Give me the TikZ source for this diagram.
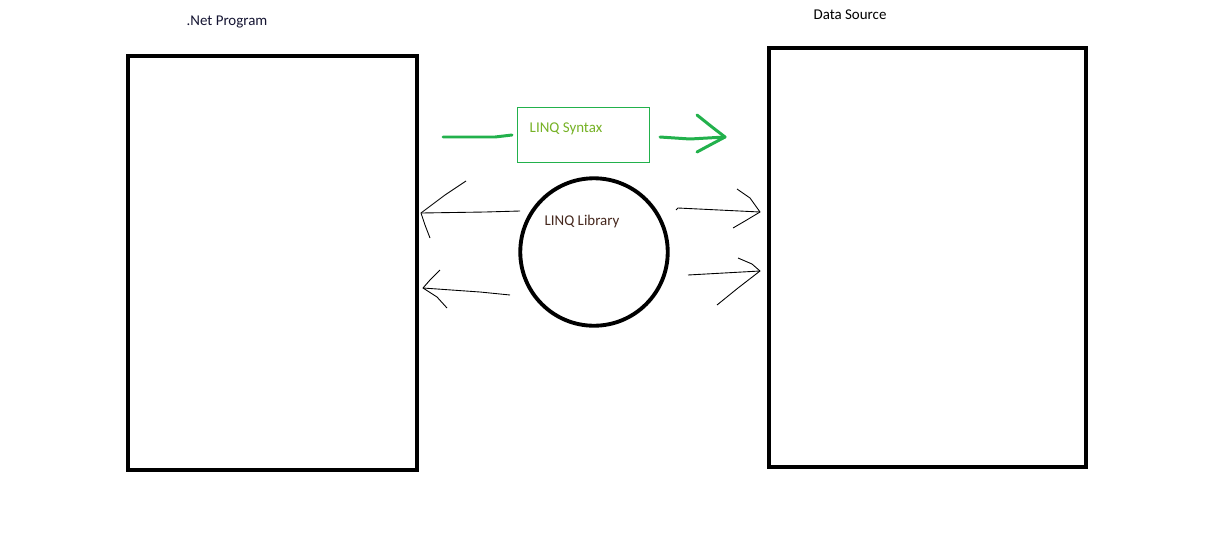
\documentclass[tikz,border=0pt]{standalone}
\usepackage{fontspec}
\setmainfont{Carlito}
\definecolor{paintgreen}{RGB}{34,177,76}
\definecolor{syntaxtext}{RGB}{118,178,38}
\definecolor{libtext}{RGB}{70,40,30}
\definecolor{captext}{RGB}{20,20,50}

\begin{document}
\begin{tikzpicture}[x=0.02cm, y=-0.02cm, font=\fontsize{8.5}{10}\selectfont,
  bigbox/.style={draw, line width=2.2pt, inner sep=0pt, anchor=north west},
  caption/.style={text=captext, inner sep=0pt},
  gline/.style={draw=paintgreen, line width=1.7pt, line cap=round, line join=round},
  pen/.style={draw=black, line width=0.5pt, line join=round}]
  \useasboundingbox[fill=white] (0,0) rectangle (1230,545);

  \node[bigbox, minimum width=5.78cm, minimum height=8.28cm] (net) at (126,54) {};
  \node[bigbox, minimum width=6.34cm, minimum height=8.38cm] (src) at (767,46) {};
  \node[draw=paintgreen, line width=0.6pt, anchor=north west,
        minimum width=2.64cm, minimum height=1.1cm] (syntax) at (517,107) {};
  \node[circle, draw, line width=2.2pt, minimum size=2.95cm] (lib) at (594,252) {};

  \node[caption] (netlabel) at (227,22) {.Net Program};
  \node[caption, text=black] (srclabel) at (850,15) {Data Source};
  \node[text=syntaxtext, inner sep=0pt] (syntaxlabel) at (566,129) {LINQ Syntax};
  \node[text=libtext, inner sep=0pt] (liblabel) at (582,222) {LINQ Library};

  % green strokes
  \coordinate (g1) at (443,137);
  \coordinate (g2) at (512,135);
  \coordinate (g3) at (660,137);
  \coordinate (g4) at (725,137);
  \draw[gline] (g1) -- (495,137) -- (g2);
  \draw[gline] (g3) -- (690,139) -- (g4);
  \draw[gline] (697,115) -- (712,127) -- (g4) -- (710,145) -- (697,152);

  % black strokes
  \coordinate (a1) at (520,211);
  \coordinate (a2) at (421,213);
  \coordinate (b1) at (510,295);
  \coordinate (b2) at (423,288);
  \coordinate (c1) at (676,210);
  \coordinate (c2) at (760,212);
  \coordinate (d1) at (688,275);
  \coordinate (d2) at (760,271);
  \draw[pen] (a1) -- (485,212) -- (a2);
  \draw[pen] (466,181) -- (445,195) -- (a2) -- (425,225) -- (430,238);
  \draw[pen] (b1) -- (480,292) -- (b2);
  \draw[pen] (440,270) -- (430,280) -- (b2) -- (437,297) -- (447,308);
  \draw[pen] (c1) -- (678,208) -- (c2);
  \draw[pen] (737,189) -- (750,198) -- (c2) -- (745,221) -- (733,228);
  \draw[pen] (d1) -- (d2);
  \draw[pen] (738,258) -- (752,264) -- (d2) -- (738,288) -- (717,305);
\end{tikzpicture}
\end{document}
